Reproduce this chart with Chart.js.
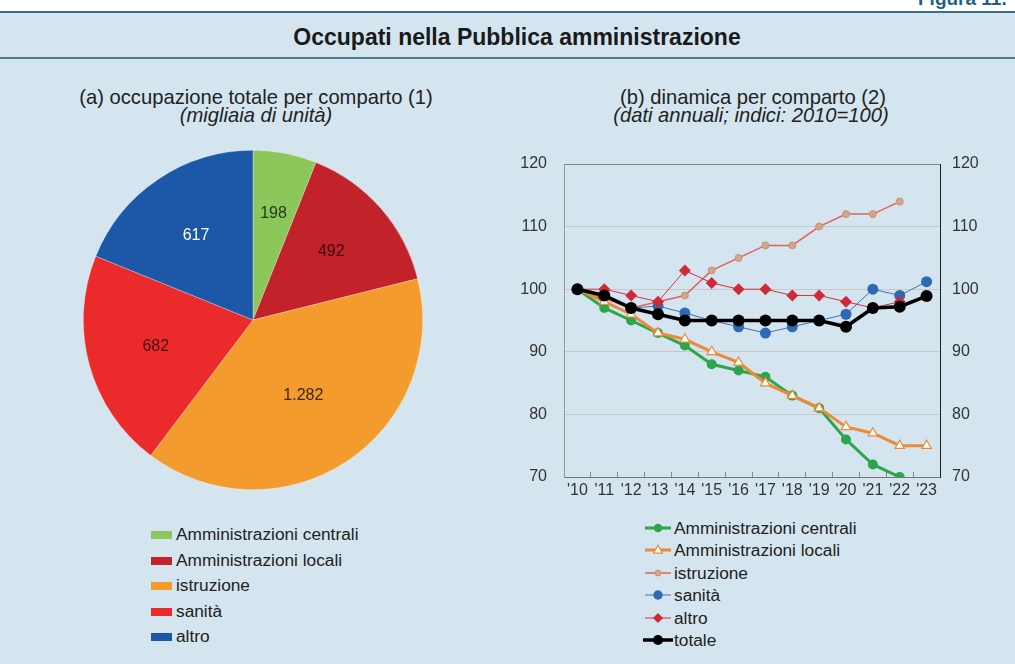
<!DOCTYPE html>
<html><head><meta charset="utf-8">
<script src="https://cdn.jsdelivr.net/npm/chart.js@4.4.1/dist/chart.umd.min.js"></script>
<style>
html,body{margin:0;padding:0;}
body{width:1015px;height:664px;position:relative;overflow:hidden;background:#d4e5ef;font-family:"Liberation Sans",Arial,sans-serif;color:#222;}
#topwhite{position:absolute;left:0;top:0;width:1015px;height:11px;background:#fff;}
#line1{position:absolute;left:0;top:11px;width:1015px;height:2px;background:#3b6d8c;}
#line2{position:absolute;left:0;top:57px;width:1015px;height:2px;background:#4d7c98;}
#fig{position:absolute;left:918px;top:-12px;font-weight:bold;font-size:19px;color:#1f5e8a;white-space:nowrap;}
.c{position:absolute;transform:translateX(-50%);white-space:nowrap;text-align:center;}
#title{left:517px;top:22px;font-weight:bold;font-size:23px;line-height:30px;color:#1a1a1a;}
.sub{font-size:20.2px;line-height:20px;color:#222;}
.it{font-style:italic;}
#pieWrap{position:absolute;left:83px;top:150px;width:340px;height:340px;}
#lineWrap{position:absolute;left:500px;top:150px;width:500px;height:350px;}
.leg{position:absolute;font-size:17.3px;color:#222;}
.leg .row{position:relative;white-space:nowrap;}
.pbox{position:absolute;left:0;width:21px;height:8px;}
</style></head>
<body>
<div id="topwhite"></div><div id="line1"></div><div id="line2"></div>
<div id="fig">Figura 11.</div>
<div id="title" class="c">Occupati nella Pubblica amministrazione</div>
<div class="c sub" style="left:256px;top:87px;">(a) occupazione totale per comparto (1)</div>
<div class="c sub it" style="left:256px;top:105px;">(migliaia di unità)</div>
<div class="c sub" style="left:753px;top:87px;">(b) dinamica per comparto (2)</div>
<div class="c sub it" style="left:751px;top:105px;">(dati annuali; indici: 2010=100)</div>
<div id="pieWrap"><canvas id="pie" width="340" height="340"></canvas></div>
<div id="lineWrap"><canvas id="line" width="500" height="350"></canvas></div>
<div id="pieLeg" class="leg" style="left:151px;top:522px;"></div>
<div id="lineLeg" class="leg" style="left:643px;top:517px;"></div>
<script>
// ---- Data: pie (a) ----
const comparti = ['Amministrazioni centrali','Amministrazioni locali','istruzione','sanità','altro'];
const occupati = [198, 492, 1282, 682, 617];
// ---- Data: lines (b) ----
const anni = ["'10","'11","'12","'13","'14","'15","'16","'17","'18","'19","'20","'21","'22","'23"];
const centrali   = [100, 97, 95, 93, 91, 88, 87, 86, 83, 81, 76, 72, 70, null];
const locali     = [100, 98, 96, 93, 92, 90, 88.3, 85, 83, 81, 78, 77, 75, 75];
const istruzione = [100, 98.5, 97, 98, 99, 103, 105, 107, 107, 110, 112, 112, 114, null];
const sanita     = [100, 99, 97, 97.3, 96.2, 95, 94, 93, 94, 95, 96, 100, 99, 101.2];
const altro      = [100, 100, 99, 98, 103, 101, 100, 100, 99, 99, 98, 97, 98, null];
const totale     = [100, 99, 97, 96, 95, 95, 95, 95, 95, 95, 94, 97, 97.2, 98.9];
const serie = ['Amministrazioni centrali','Amministrazioni locali','istruzione','sanità','altro','totale'];
const yTicks = [70, 80, 90, 100, 110, 120];

// ---- Styles ----
const pieColors = ['#8bc75a','#c2222a','#f49b2e','#eb2b2b','#1d57a7'];
const pieLabelColors = ['#1e3a14','#3a0c0c','#3a2810','#4a0e0e','#ffffff'];
const FONT = '"Liberation Sans", Arial, sans-serif';
function fmtIt(v){ const s=String(v); return v>=1000 ? s.slice(0,-3)+'.'+s.slice(-3) : s; }

const pieLabelPlugin = {
  id:'pieLabels',
  afterDatasetsDraw(chart){
    const ctx = chart.ctx;
    const meta = chart.getDatasetMeta(0);
    ctx.save();
    ctx.font = '16px ' + FONT;
    ctx.textAlign = 'center'; ctx.textBaseline = 'middle';
    meta.data.forEach((arc,i)=>{
      const p = arc.getProps(['x','y','startAngle','endAngle','outerRadius'], true);
      const mid = (p.startAngle + p.endAngle)/2;
      const span = p.endAngle - p.startAngle;
      const r = p.outerRadius * (0.66 - 0.05*span);
      ctx.fillStyle = pieLabelColors[i];
      ctx.fillText(fmtIt(occupati[i]), p.x + Math.cos(mid)*r, p.y + Math.sin(mid)*r);
    });
    ctx.restore();
  }
};

new Chart(document.getElementById('pie'), {
  type:'pie',
  data:{ labels:comparti, datasets:[{ data:occupati, backgroundColor:pieColors, borderColor:'rgba(255,255,255,0.5)', borderWidth:0.6 }]},
  options:{ responsive:false, animation:false, layout:{padding:0},
    plugins:{ legend:{display:false}, tooltip:{enabled:false} } },
  plugins:[pieLabelPlugin]
});

const styles = [
  {color:'#2ea54a', width:3, style:'circle', radius:5, bg:'#2ea54a', bc:'#2ea54a', bw:0, order:2},
  {color:'#ec8a3a', width:3, style:'triangle', radius:5.5, bg:'#ffffff', bc:'#ec8a3a', bw:1.2, order:1},
  {color:'#e0605a', width:1.5, style:'circle', radius:3.5, bg:'#c9ab8c', bc:'#d98a72', bw:1, order:5},
  {color:'#3d72bb', width:1, style:'circle', radius:5.5, bg:'#2f69b3', bc:'#2f69b3', bw:0, order:4},
  {color:'#d4303f', width:1, style:'rectRot', radius:6, bg:'#cf2a3a', bc:'#cf2a3a', bw:0, order:3},
  {color:'#000000', width:3.5, style:'circle', radius:6, bg:'#000000', bc:'#000000', bw:0, order:0}
];
const seriesData = [centrali, locali, istruzione, sanita, altro, totale];

const tickFont = {family:FONT, size:16};
new Chart(document.getElementById('line'), {
  type:'line',
  data:{ labels:anni, datasets: serie.map((name,i)=>({
    label:name, data:seriesData[i], borderColor:styles[i].color, borderWidth:styles[i].width,
    pointStyle:styles[i].style, pointRadius:styles[i].radius, pointBackgroundColor:styles[i].bg,
    pointBorderColor:styles[i].bc, pointBorderWidth:styles[i].bw, order:styles[i].order,
    tension:0, spanGaps:false, fill:false
  }))},
  options:{
    responsive:false, animation:false,
    layout:{padding:{top:14, left:0, right:0, bottom:0}},
    plugins:{legend:{display:false}, tooltip:{enabled:false}},
    scales:{
      x:{ offset:true,
        grid:{offset:true, drawOnChartArea:false, drawTicks:true, tickLength:-5, color:'#888'},
        border:{color:'#777', width:1},
        ticks:{font:tickFont, color:'#333', padding:9, maxRotation:0, autoSkip:false},
        afterFit(s){ s.height = 23; } },
      y:{ position:'left', min:70, max:120,
        afterBuildTicks(s){ s.ticks = yTicks.map(v=>({value:v})); },
        ticks:{font:tickFont, color:'#333', padding:0},
        grid:{drawTicks:true, tickLength:17, tickColor:'rgba(0,0,0,0)', color:(c)=> (c.tick && (c.tick.value===120 || c.tick.value===70)) ? '#888' : '#c8c8c8'},
        border:{color:'#999'},
        afterFit(s){ s.width = 64; } },
      y2:{ position:'right', min:70, max:120,
        afterBuildTicks(s){ s.ticks = yTicks.map(v=>({value:v})); },
        ticks:{font:tickFont, color:'#333', padding:0},
        grid:{drawOnChartArea:false, drawTicks:true, tickLength:12, tickColor:'rgba(0,0,0,0)'},
        border:{color:'#222'},
        afterFit(s){ s.width = 60; } }
    }
  }
});

// ---- HTML legends ----
const pieLeg = document.getElementById('pieLeg');
comparti.forEach((name,i)=>{
  const row = document.createElement('div'); row.className='row';
  row.style.height='25.5px'; row.style.lineHeight='25.5px'; row.style.paddingLeft='25px';
  const b = document.createElement('span'); b.className='pbox'; b.style.background=pieColors[i]; b.style.top='9px';
  row.appendChild(b); row.appendChild(document.createTextNode(name));
  pieLeg.appendChild(row);
});
const lineLeg = document.getElementById('lineLeg');
function marker(st){
  const cx=15, cy=11, r=st.radius*0.85;
  if(st.style==='triangle'){
    return `<polygon points="${cx},${cy-r} ${cx+r*0.95},${cy+r*0.65} ${cx-r*0.95},${cy+r*0.65}" fill="${st.bg}" stroke="${st.bc}" stroke-width="${st.bw}"/>`;
  }
  if(st.style==='rectRot'){
    return `<polygon points="${cx},${cy-r} ${cx+r},${cy} ${cx},${cy+r} ${cx-r},${cy}" fill="${st.bg}"/>`;
  }
  return `<circle cx="${cx}" cy="${cy}" r="${r}" fill="${st.bg}" stroke="${st.bc}" stroke-width="${st.bw}"/>`;
}
serie.forEach((name,i)=>{
  const st = styles[i];
  const row = document.createElement('div'); row.className='row';
  row.style.height='22.4px'; row.style.lineHeight='22.4px'; row.style.paddingLeft='31px';
  const x0 = i===5 ? 0 : 2, x1 = i===5 ? 30 : 28;
  row.innerHTML = `<svg width="31" height="22" style="position:absolute;left:0;top:0"><line x1="${x0}" y1="11" x2="${x1}" y2="11" stroke="${st.color}" stroke-width="${st.width}"/>${marker(st)}</svg>` + name;
  lineLeg.appendChild(row);
});
</script>
</body></html>
